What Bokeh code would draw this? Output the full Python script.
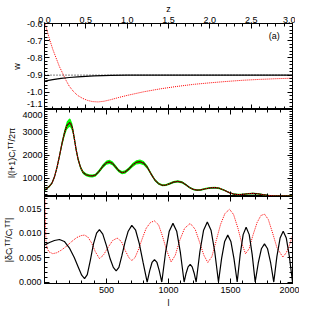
from bokeh.plotting import figure
from bokeh.layouts import column
from bokeh.models import (LinearAxis, Range1d, PrintfTickFormatter, CustomJSTickFormatter,
                          SingleIntervalTicker, FixedTicker)
from bokeh.embed import file_html
from bokeh.resources import INLINE
from bokeh.core.properties import value

FONT = "Liberation Sans"

# ---------------- data: panel (a) top, w(z) ----------------
z_black = [0.0, 0.1, 0.2, 0.3, 0.4, 0.5, 0.6, 0.7, 0.8, 1.0, 1.5, 2.0, 2.5, 3.0]
w_black = [-0.935, -0.926, -0.919, -0.914, -0.910, -0.907, -0.905, -0.903, -0.902, -0.900, -0.900, -0.900, -0.900, -0.900]
z_red = [0.0, 0.03, 0.06, 0.1, 0.14, 0.18, 0.22, 0.26, 0.3, 0.35, 0.4, 0.46, 0.52, 0.58, 0.65,
         0.72, 0.8, 0.9, 1.0, 1.2, 1.4, 1.6, 1.8, 2.0, 2.2, 2.4, 2.6, 2.8, 3.0]
w_red = [-0.59, -0.64, -0.69, -0.75, -0.80, -0.85, -0.89, -0.93, -0.965, -0.995, -1.018, -1.035,
         -1.047, -1.054, -1.056, -1.052, -1.043, -1.030, -1.018, -0.997, -0.980, -0.966, -0.954,
         -0.945, -0.937, -0.930, -0.925, -0.921, -0.918]
z_fid = [0.0, 3.0]
w_fid = [-0.9, -0.9]
w_labels = {-1.07: "-1.1", -1.0: "-1.0", -0.9: "-0.9", -0.8: "-0.8", -0.7: "-0.7", -0.6: "-0.6"}

# ---------------- data: middle, l(l+1)C_l/2pi ----------------
l_mid = [2, 20, 40, 60, 80, 100, 120, 140, 160, 180, 200, 210, 225, 240, 255, 270, 290, 310, 335, 360,
         385, 410, 440, 470, 500, 525, 550, 575, 600, 625, 650, 680, 710, 740, 770, 800, 830, 860, 890,
         920, 950, 980, 1010, 1040, 1075, 1110, 1140, 1170, 1200, 1230, 1260, 1300, 1340, 1375, 1410,
         1450, 1490, 1530, 1560, 1600, 1640, 1680, 1720, 1760, 1800, 1850, 1900, 1950, 2000]
cl_mid = [480, 560, 650, 780, 1050, 1450, 1950, 2490, 2950, 3300, 3420, 3400, 3200, 2750, 2250, 1850,
          1480, 1260, 1150, 1110, 1100, 1130, 1300, 1520, 1680, 1710, 1640, 1480, 1320, 1240, 1270,
          1400, 1570, 1690, 1720, 1660, 1470, 1180, 920, 760, 690, 700, 760, 830, 860, 820, 710, 590,
          510, 480, 490, 540, 580, 590, 560, 470, 370, 300, 285, 295, 320, 335, 320, 280, 250, 230,
          225, 225, 220]
err_mid = [45, 45, 45, 50, 65, 85, 110, 140, 160, 180, 185, 185, 175, 150, 125, 105, 85, 75, 70, 65,
           65, 65, 75, 85, 95, 95, 90, 85, 75, 70, 72, 80, 88, 95, 95, 92, 82, 68, 55, 48, 45, 45, 48,
           50, 52, 50, 45, 40, 38, 36, 36, 38, 40, 40, 38, 35, 32, 30, 30, 30, 30, 32, 30, 30, 30, 30,
           30, 30, 30]
cl_labels = {1000: "1000", 2000: "2000", 3000: "3000", 3780: "4000"}

# ---------------- data: bottom, |dC/C| ----------------
bottom_black = [(2, 0.0076), (40, 0.0081), (80, 0.0085), (121, 0.0087), (160, 0.0083), (200, 0.0070),
                (240, 0.0050), (270, 0.0032), (300, 0.0014), (323, 0.0007), (345, 0.0015), (370, 0.0045),
                (395, 0.0078), (420, 0.0100), (443, 0.0107), (470, 0.0098), (500, 0.0074), (530, 0.0047),
                (555, 0.0030), (578, 0.0023), (600, 0.0030), (625, 0.0055), (650, 0.0082), (675, 0.0104),
                (704, 0.0116), (735, 0.0106), (765, 0.0078), (795, 0.0040), (828, 0.0),
                (848, 0.0023), (867, 0.0040), (887, 0.0046), (907, 0.0040), (926, 0.0023), (946, 0.0),
                (976, 0.0060), (1006, 0.0104), (1036, 0.0120), (1066, 0.0104), (1096, 0.0060), (1126, 0.0),
                (1142, 0.0018), (1158, 0.0031), (1175, 0.0036), (1191, 0.0031), (1207, 0.0018), (1223, 0.0),
                (1253, 0.0062), (1283, 0.0106), (1313, 0.0123), (1343, 0.0106), (1373, 0.0062), (1403, 0.0),
                (1428, 0.0048), (1453, 0.0083), (1478, 0.0096), (1503, 0.0083), (1528, 0.0048), (1554, 0.0),
                (1578, 0.0056), (1602, 0.0097), (1626, 0.0112), (1651, 0.0097), (1675, 0.0056), (1699, 0.0),
                (1724, 0.0039), (1749, 0.0068), (1774, 0.0078), (1799, 0.0068), (1824, 0.0039), (1849, 0.0),
                (1874, 0.0052), (1900, 0.0090), (1925, 0.0104), (1950, 0.0090), (1975, 0.0052), (2000, 0.0)]
bottom_red = [(2, 0.0200), (5, 0.0150), (8, 0.0110), (12, 0.0085), (20, 0.0070), (35, 0.0062),
              (67, 0.0058), (100, 0.0060), (140, 0.0066), (180, 0.0074), (220, 0.0083), (260, 0.0091),
              (295, 0.0095), (323, 0.0096), (350, 0.0092), (380, 0.0080), (410, 0.0062), (443, 0.0048),
              (475, 0.0055), (510, 0.0070), (550, 0.0085), (586, 0.0090), (620, 0.0083), (650, 0.0065),
              (680, 0.0050), (704, 0.0044), (730, 0.0050), (760, 0.0068), (790, 0.0090), (820, 0.0110),
              (855, 0.0122), (887, 0.0125), (920, 0.0117), (950, 0.0095), (985, 0.0065), (1021, 0.0041),
              (1055, 0.0055), (1090, 0.0085), (1130, 0.0110), (1175, 0.0120), (1215, 0.0108), (1250, 0.0082),
              (1285, 0.0055), (1317, 0.0040), (1350, 0.0052), (1385, 0.0085), (1420, 0.0118), (1455, 0.0140),
              (1492, 0.0149), (1525, 0.0138), (1560, 0.0110), (1590, 0.0080), (1621, 0.0058), (1650, 0.0068),
              (1680, 0.0095), (1715, 0.0122), (1745, 0.0136), (1774, 0.0139), (1805, 0.0128), (1840, 0.0100),
              (1875, 0.0070), (1922, 0.0051), (1950, 0.0060), (1975, 0.0075), (2000, 0.0095)]

panel_label = "(a)"

# ---------------- helpers ----------------
LBL = "9px"
FRAME_W = 248


def style(ax, interval, minor, fmt=None, labels=True, title=None):
    if interval is not None:
        ax.ticker = SingleIntervalTicker(interval=interval, num_minor_ticks=minor)
    ax.major_tick_in = 5
    ax.major_tick_out = 0
    ax.minor_tick_in = 3
    ax.minor_tick_out = 0
    ax.axis_line_color = "black"
    ax.major_tick_line_color = "black"
    ax.minor_tick_line_color = "black"
    ax.major_label_text_font = FONT
    ax.major_label_text_font_size = LBL
    ax.major_label_text_color = "black"
    ax.axis_label_text_font = FONT
    ax.axis_label_text_font_size = "9px"
    ax.axis_label_text_font_style = "normal"
    ax.axis_label_text_color = "black"
    if labels:
        ax.formatter = PrintfTickFormatter(format=fmt)
        ax.major_label_standoff = 3
    else:
        ax.formatter = CustomJSTickFormatter(code="return ''")
        ax.major_label_standoff = 0
        ax.major_label_text_font_size = "1px"
    if title is not None:
        ax.axis_label = title
        ax.axis_label_standoff = 2
    return ax


def label_axis(positions, title):
    # labels-only axis (no line, no ticks); tick marks come from the axis next to the frame
    ax = LinearAxis(ticker=FixedTicker(ticks=list(positions.keys()), minor_ticks=[]))
    style(ax, None, 0, "%.1f", True, title)
    ax.major_label_overrides = positions
    ax.major_tick_line_color = None
    ax.minor_tick_line_color = None
    ax.axis_line_color = None
    ax.major_label_standoff = 2
    return ax


def make_fig(xr, yr, fh, top, bottom):
    p = figure(frame_width=FRAME_W, frame_height=fh, x_range=xr, y_range=yr,
               x_axis_location=None, y_axis_location=None,
               toolbar_location=None, output_backend="svg",
               min_border_left=40, min_border_right=7,
               min_border_top=top, min_border_bottom=bottom)
    p.grid.visible = False
    p.outline_line_color = "black"
    p.background_fill_color = "white"
    p.border_fill_color = "white"
    return p


# ---------------- top panel ----------------
p1 = make_fig(Range1d(0, 3), Range1d(-1.1, -0.6), 86, 0, 0)
ax_top = style(LinearAxis(), 0.5, 5, "%.1f", True, "z")
ax_top.axis_label_standoff = 0
ax_top.major_label_standoff = 1
p1.add_layout(ax_top, "above")
p1.add_layout(style(LinearAxis(), 0.5, 5, labels=False), "below")
p1.add_layout(style(LinearAxis(), 0.1, 5, labels=False), "left")
p1.add_layout(label_axis(w_labels, "w"), "left")
p1.add_layout(style(LinearAxis(), 0.1, 5, labels=False), "right")
p1.line(z_fid, w_fid, color="black", line_width=1, line_dash="1 2")
p1.line(z_red, w_red, color="red", line_width=1, line_dash="1 1")
p1.line(z_black, w_black, color="black", line_width=1.2)
p1.text(x=[2.78], y=[-0.67], text=[panel_label], text_font=value(FONT), text_font_size="9px",
        text_align="center", text_baseline="middle", text_color="black")

# ---------------- middle panel ----------------
p2 = make_fig(Range1d(0, 2000), Range1d(200, 4000), 87, 0, 0)
p2.add_layout(style(LinearAxis(), 500, 5, labels=False), "above")
p2.add_layout(style(LinearAxis(), 500, 5, labels=False), "below")
p2.add_layout(style(LinearAxis(), 1000, 10, labels=False), "left")
p2.add_layout(label_axis(cl_labels, "l(l+1)Cₗᵀᵀ/2π"), "left")
p2.add_layout(style(LinearAxis(), 1000, 10, labels=False), "right")
lower = [c - e for c, e in zip(cl_mid, err_mid)]
upper = [c + e for c, e in zip(cl_mid, err_mid)]
p2.varea(x=l_mid, y1=lower, y2=upper, fill_color="#00ff00", fill_alpha=1.0)
p2.line(l_mid, cl_mid, color="black", line_width=1.2)
p2.line(l_mid, cl_mid, color="red", line_width=1, line_dash="1 1")

# ---------------- bottom panel ----------------
p3 = make_fig(Range1d(0, 2000), Range1d(-0.0003, 0.0175), 87, 0, 0)
p3.add_layout(style(LinearAxis(), 500, 5, labels=False), "above")
ax_b = style(LinearAxis(), 500, 5, "%d", True, "l")
ax_b.major_label_overrides = {0: ""}
p3.add_layout(ax_b, "below")
p3.add_layout(style(LinearAxis(), 0.005, 5, "%.3f", True, "|δCₗᵀᵀ/Cₗᵀᵀ|"), "left")
p3.add_layout(style(LinearAxis(), 0.005, 5, labels=False), "right")
lb = [a for a, b in bottom_black]
vb = [b for a, b in bottom_black]
lr = [a for a, b in bottom_red]
vr = [b for a, b in bottom_red]
p3.line(lr, vr, color="red", line_width=1, line_dash="1 1")
p3.line(lb, vb, color="black", line_width=1.2)

layout = column(p1, p2, p3, spacing=0)
open("out.html", "w").write(file_html(layout, INLINE))
